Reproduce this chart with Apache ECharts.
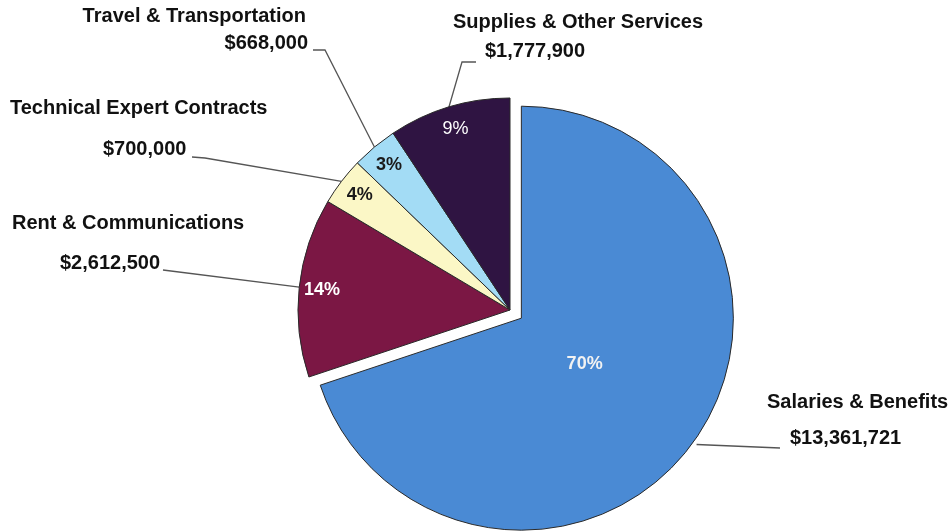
<!DOCTYPE html>
<html><head><meta charset="utf-8">
<script src="https://cdn.jsdelivr.net/npm/echarts@6/dist/echarts.min.js"></script>
<style>html,body{margin:0;padding:0;background:#fff}#c{width:950px;height:531px}</style>
</head><body><div id="c"></div>
<script>
// ---- data ----
const categories = ['Salaries & Benefits', 'Rent & Communications', 'Technical Expert Contracts', 'Travel & Transportation', 'Supplies & Other Services'];
const amounts = [13361721, 2612500, 700000, 668000, 1777900];

// ---- styles / layout ----
const sliceColors = ['#4a8ad4', '#7b1744', '#fbf7c6', '#a3dcf5', '#2f1442'];
const pctColors = ['#f2f2f2', '#ffffff', '#1a1a1a', '#1a1a1a', '#ffffff'];
const pctWeights = ['bold', 'bold', 'bold', 'bold', 'normal'];
const CENTER = [510, 310], R = 212, OFFSET = 14;
const FONT = "'Liberation Sans', Arial, sans-serif";

// label anchors (annotation placement)
const namePos = [
  { x: 767, y: 402, align: 'left' },
  { x: 12, y: 223, align: 'left' },
  { x: 10, y: 108, align: 'left' },
  { x: 306, y: 16, align: 'right' },
  { x: 453, y: 22, align: 'left' }
];
const valuePos = [
  { x: 790, y: 438, align: 'left', bend: [780, 448], end: [780, 448] },
  { x: 60, y: 263, align: 'left', bend: [163, 270], end: [163, 270] },
  { x: 103, y: 149, align: 'left', bend: [205, 158], end: [192, 157] },
  { x: 308, y: 43, align: 'right', bend: [325, 50], end: [313, 50] },
  { x: 485, y: 51, align: 'left', bend: [462, 62], end: [476, 62] }
];

const total = amounts.reduce((a, b) => a + b, 0);
const fmtMoney = v => '$' + v.toLocaleString('en-US');
const fmtPct = p => Math.round(p.value / total * 100) + '%';

const chart = echarts.init(document.getElementById('c'), null, { renderer: 'canvas' });

const baseData = categories.map((n, i) => ({ name: n, value: amounts[i] }));
const transparent = { color: 'rgba(0,0,0,0)', borderWidth: 0 };

const option = {
  animation: false,
  backgroundColor: '#ffffff',
  series: [
    { // visible slices
      type: 'pie', center: CENTER, radius: R, startAngle: 90, clockwise: true,
      selectedMode: 'single', selectedOffset: OFFSET, silent: true,
      label: { show: false }, labelLine: { show: false },
      itemStyle: { borderColor: '#2a2a2a', borderWidth: 1 },
      emphasis: { disabled: true },
      data: baseData.map((d, i) => ({ ...d, selected: i === 0, itemStyle: { color: sliceColors[i] } }))
    },
    { // percent labels (outer ring)
      type: 'pie', center: CENTER, radius: [160, R], startAngle: 90, clockwise: true,
      silent: true, itemStyle: transparent, emphasis: { disabled: true }, labelLine: { show: false },
      label: { position: 'inside', fontFamily: FONT, fontSize: 18, formatter: fmtPct },
      data: baseData.map((d, i) => ({ ...d, label: { show: i !== 0, color: pctColors[i], fontWeight: pctWeights[i] } }))
    },
    { // percent label for the large slice
      type: 'pie', center: CENTER, radius: [0, 150], startAngle: 90, clockwise: true,
      selectedMode: 'single', selectedOffset: OFFSET,
      silent: true, itemStyle: transparent, emphasis: { disabled: true }, labelLine: { show: false },
      label: { position: 'inside', fontFamily: FONT, fontSize: 18, formatter: fmtPct },
      data: baseData.map((d, i) => ({ ...d, selected: i === 0, label: { show: i === 0, color: pctColors[i], fontWeight: pctWeights[i] } }))
    },
    { // category names
      type: 'pie', center: CENTER, radius: R, startAngle: 90, clockwise: true,
      silent: true, itemStyle: transparent, emphasis: { disabled: true },
      avoidLabelOverlap: false,
      label: { show: true, position: 'outside', fontFamily: FONT, fontSize: 20, fontWeight: 'bold', color: '#111',
        formatter: p => p.name },
      labelLine: { show: false },
      labelLayout: p => {
        const s = namePos[p.dataIndex];
        return { x: s.x, y: s.y, align: s.align, verticalAlign: 'middle' };
      },
      data: baseData
    },
    { // amounts with leader lines
      type: 'pie', center: CENTER, radius: R, startAngle: 90, clockwise: true,
      silent: true, itemStyle: transparent, emphasis: { disabled: true },
      avoidLabelOverlap: false,
      label: { show: true, position: 'outside', fontFamily: FONT, fontSize: 20, fontWeight: 'bold', color: '#111',
        formatter: p => fmtMoney(p.value) },
      labelLine: { show: true, lineStyle: { color: '#555', width: 1.3 } },
      labelLayout: p => {
        const s = valuePos[p.dataIndex];
        let start = p.labelLinePoints ? p.labelLinePoints[0].slice() : [CENTER[0], CENTER[1]];
        if (p.dataIndex === 0) {
          const dx = (start[0] - CENTER[0]) / R, dy = (start[1] - CENTER[1]) / R;
          start = [start[0] + dx * (OFFSET + 4), start[1] + dy * (OFFSET + 4)];
        }
        return { x: s.x, y: s.y, align: s.align, verticalAlign: 'middle',
          labelLinePoints: [start, s.bend, s.end] };
      },
      data: baseData
    }
  ]
};
chart.setOption(option);
</script>
</body></html>
